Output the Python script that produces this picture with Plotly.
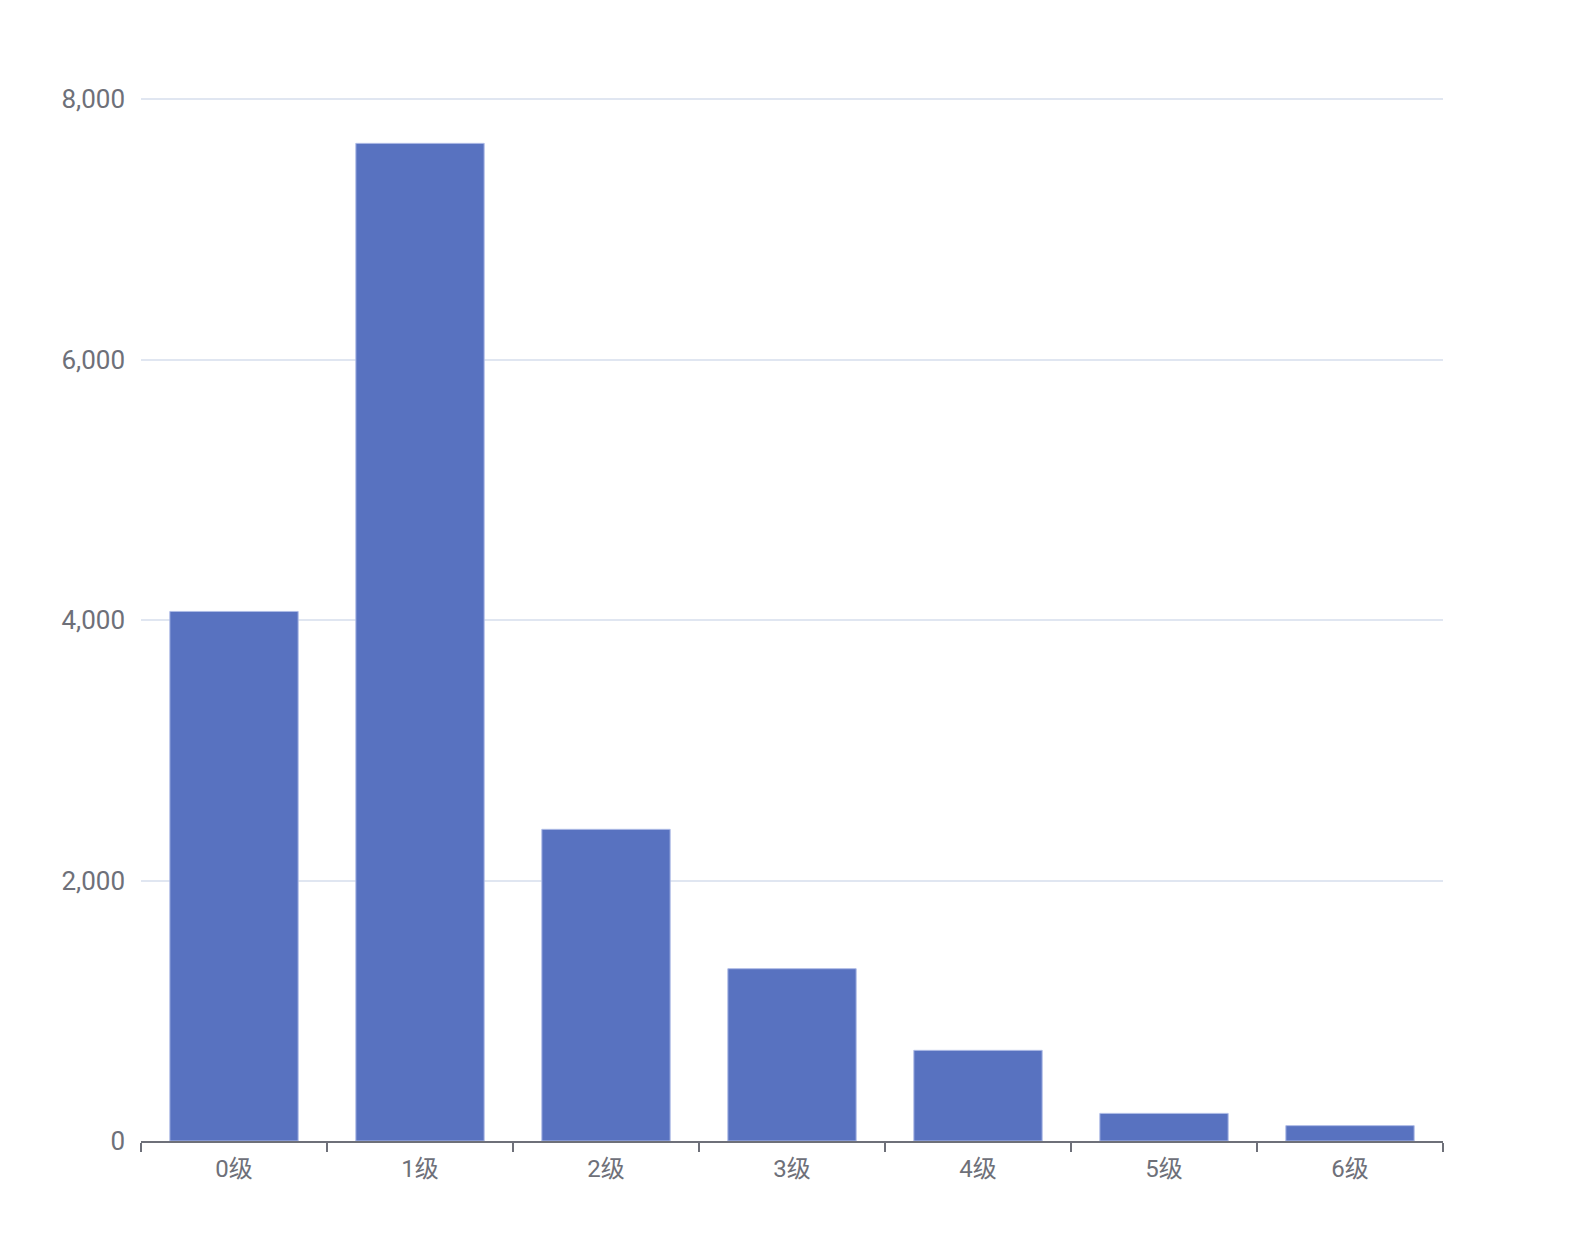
import plotly.graph_objects as go

categories = ["0级", "1级", "2级", "3级", "4级", "5级", "6级"]
values = [4066, 7660, 2393, 1323, 696, 212, 118]
y_ticks = [0, 2000, 4000, 6000, 8000]
y_tick_labels = ["0", "2,000", "4,000", "6,000", "8,000"]

fig = go.Figure(
    go.Bar(
        x=categories,
        y=values,
        marker=dict(color="#5872c0", line=dict(color="#aebbe6", width=1)),
        hoverinfo="x+y",
    )
)

font_family = "Roboto, Noto Sans CJK SC, sans-serif"
fig.update_layout(
    width=1592,
    height=1258,
    margin=dict(l=133, r=157, t=89, b=125),
    paper_bgcolor="white",
    plot_bgcolor="white",
    bargap=0.31,
    showlegend=False,
    font=dict(family=font_family, size=24, color="#6e7079"),
)
fig.update_xaxes(
    type="category",
    showline=True,
    linecolor="#6e7079",
    linewidth=2,
    ticks="outside",
    tickson="boundaries",
    ticklen=9,
    tickwidth=2,
    tickcolor="#6e7079",
    showgrid=False,
    tickfont=dict(size=24, color="#6e7079"),
    ticklabelstandoff=5,
)
fig.update_yaxes(
    range=[0, 8016],
    tickvals=y_ticks,
    ticktext=y_tick_labels,
    showgrid=True,
    gridcolor="#e0e6f1",
    gridwidth=2,
    zeroline=False,
    showline=False,
    ticks="",
    tickfont=dict(size=26, color="#6e7079"),
    ticklabelstandoff=15,
)

fig.write_html("out.html")
